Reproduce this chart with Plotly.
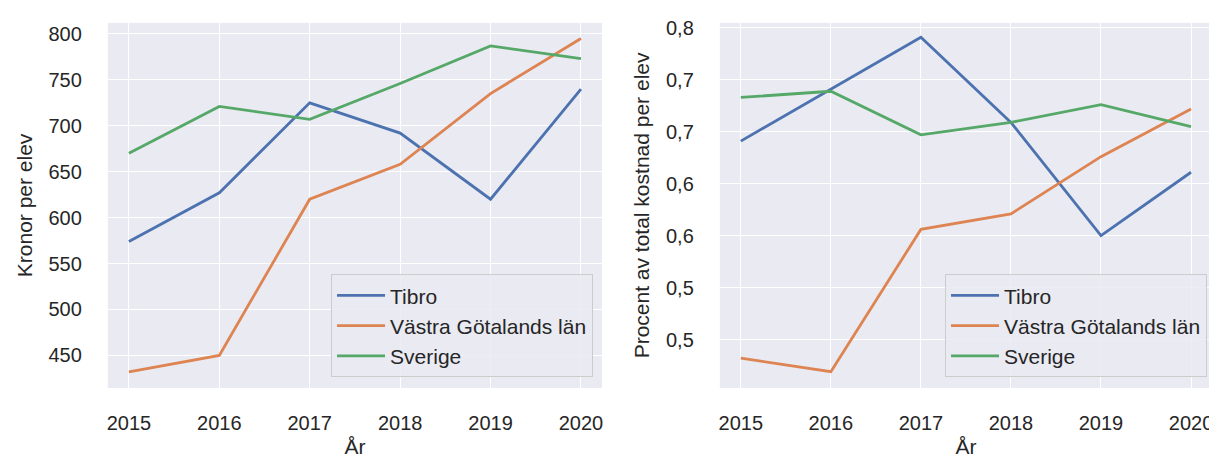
import plotly.graph_objects as go

years = [2015, 2016, 2017, 2018, 2019, 2020]
series_names = ["Tibro", "Västra Götalands län", "Sverige"]
colors = ["#4c72b0", "#dd8452", "#55a868"]

# Left: Kronor per elev
kr_tibro = [574, 627, 725, 692, 620, 740]
kr_vgl = [432, 450, 620, 658, 735, 795]
kr_sverige = [670, 721, 707, 746, 787, 773]

# Right: Procent av total kostnad per elev
pct_tibro = [0.691, 0.741, 0.791, 0.709, 0.600, 0.661]
pct_vgl = [0.482, 0.469, 0.606, 0.621, 0.676, 0.722]
pct_sverige = [0.733, 0.739, 0.697, 0.709, 0.726, 0.705]

left_ticks = [450, 500, 550, 600, 650, 700, 750, 800]
right_tickvals = [0.50, 0.55, 0.60, 0.65, 0.70, 0.75, 0.80]
right_ticktext = ["0,5", "0,5", "0,6", "0,6", "0,7", "0,7", "0,8"]

fig = go.Figure()
for name, vals, c in zip(series_names, [kr_tibro, kr_vgl, kr_sverige], colors):
    fig.add_trace(go.Scatter(x=years, y=vals, mode="lines", name=name,
                             line=dict(color=c, width=2.8), xaxis="x", yaxis="y",
                             legend="legend"))
for name, vals, c in zip(series_names, [pct_tibro, pct_vgl, pct_sverige], colors):
    fig.add_trace(go.Scatter(x=years, y=vals, mode="lines", name=name,
                             line=dict(color=c, width=2.8), xaxis="x2", yaxis="y2",
                             legend="legend2"))

# page has an 8px body margin; coordinates below are reference pixels minus 8
W, H = 1209, 456
OFF = 8
font = "Liberation Sans, Arial, sans-serif"
tick_font = dict(family=font, size=20, color="#262626")
title_font = dict(family=font, size=21, color="#262626")
legend_font = dict(family=font, size=21, color="#262626")

def xdom(a, b):
    return [(a - OFF) / W, (b - OFF) / W]

ydom = [1 - (387 - OFF) / H, 1 - (17 - OFF) / H]

common_x = dict(tickvals=years, ticktext=[str(y) for y in years],
                range=[2014.767, 2020.233], showgrid=True, gridcolor="white",
                gridwidth=1.3, zeroline=False, showline=False, ticks="",
                tickfont=tick_font, ticklabelstandoff=21,
                title=dict(text="År", font=title_font, standoff=6))

common_y = dict(showgrid=True, gridcolor="white", gridwidth=1.3, zeroline=False,
                ticks="", tickfont=tick_font, ticklabelstandoff=25)

legend_common = dict(xanchor="right", yanchor="bottom", itemwidth=48,
                     entrywidth=212, entrywidthmode="pixels",
                     bgcolor="rgba(234,234,242,0.85)", bordercolor="#cccccc",
                     borderwidth=1, font=legend_font)

fig.update_layout(
    width=W, height=H,
    margin=dict(l=0, r=0, t=0, b=0),
    paper_bgcolor="white",
    plot_bgcolor="#eaeaf2",
    font=dict(family=font, color="#262626"),
    xaxis=dict(domain=xdom(107, 602), anchor="y", **common_x),
    xaxis2=dict(domain=xdom(720, 1213), anchor="y2", **common_x),
    yaxis=dict(domain=ydom, anchor="x", range=[414.5, 812], tickvals=left_ticks,
               title=dict(text="Kronor per elev", font=title_font, standoff=10),
               **common_y),
    yaxis2=dict(domain=ydom, anchor="x2", range=[0.4533, 0.8048],
                tickvals=right_tickvals, ticktext=right_ticktext,
                title=dict(text="Procent av total kostnad per elev", font=title_font, standoff=10),
                **common_y),
    legend=dict(x=(593 - OFF) / W, y=1 - (376 - OFF) / H, **legend_common),
    legend2=dict(x=(1208 - OFF) / W, y=1 - (376 - OFF) / H, **legend_common),
)

fig.write_html("out.html")
